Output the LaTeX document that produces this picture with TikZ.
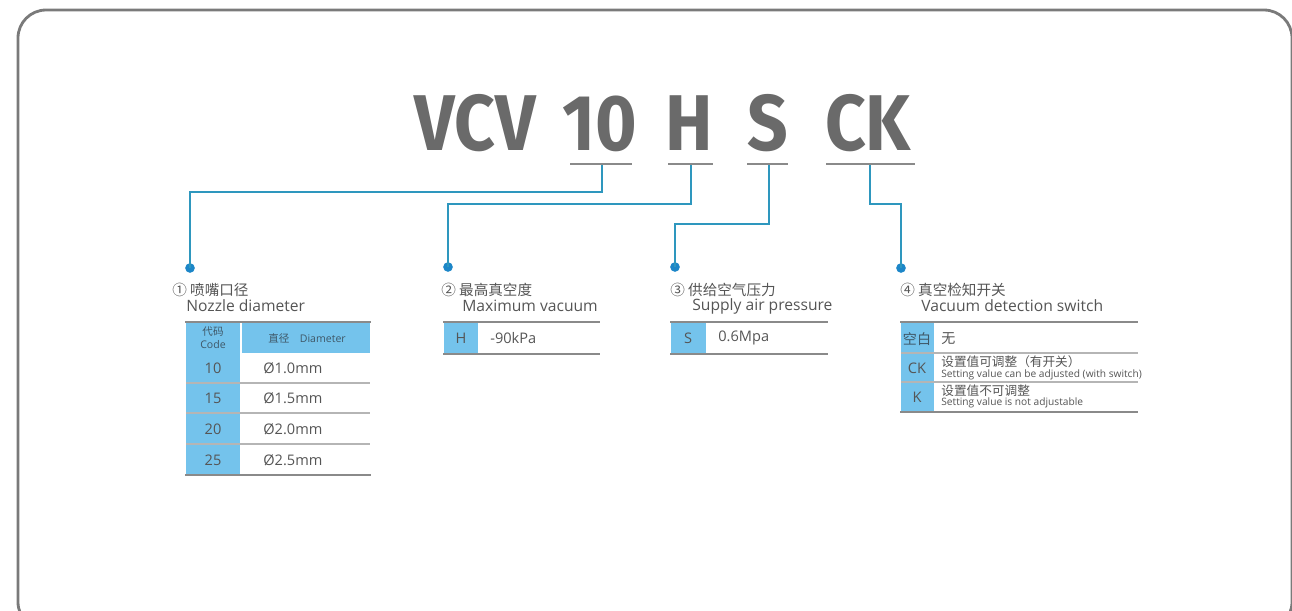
\documentclass[tikz,border=0pt]{standalone}
\usepackage{fontspec}
\setmainfont{Open Sans}
\newfontfamily\cjk{Noto Sans CJK SC}
\newfontfamily\titlefont[FakeStretch=0.9]{Fira Sans}
\definecolor{frameg}{HTML}{7A7A7A}
\definecolor{titleg}{HTML}{6A6A6A}
\definecolor{linec}{HTML}{2E97BE}
\definecolor{dotc}{HTML}{1C86C8}
\definecolor{cellb}{HTML}{74C3EC}
\definecolor{ruleg}{HTML}{8A8A8A}
\definecolor{sepg}{HTML}{B5B5B5}
\definecolor{txt}{HTML}{555555}
\definecolor{htxt}{HTML}{3F5868}
\tikzset{
  framebox/.style={draw=frameg, line width=1.6pt, rounded corners=0.56cm},
  titletxt/.style={anchor=base, inner sep=0pt, text=titleg, font=\titlefont\bfseries\fontsize{45}{45}\selectfont},
  uline/.style={draw=ruleg, line width=1.3pt},
  conn/.style={draw=linec, line width=1.1pt},
  dotn/.style={circle, fill=dotc, inner sep=0pt, minimum size=5.5pt},
  headcn/.style={anchor=west, inner sep=0pt, text=txt, font=\cjk\fontsize{8.3}{9}\selectfont},
  headen/.style={anchor=west, inner sep=0pt, text=txt, font=\fontsize{8.9}{10}\selectfont},
  toprule/.style={draw=ruleg, line width=1.3pt},
  seprule/.style={draw=sepg, line width=0.8pt},
  botrule/.style={draw=ruleg, line width=1pt},
  cell/.style={fill=cellb, draw=none},
  codetxt/.style={inner sep=0pt, text=txt, font=\fontsize{8.3}{9}\selectfont},
  valtxt/.style={anchor=west, inner sep=0pt, text=txt, font=\fontsize{8.3}{9}\selectfont},
  smalltxt/.style={inner sep=0pt, text=htxt, font=\fontsize{6}{7}\selectfont},
  cntxt/.style={anchor=west, inner sep=0pt, text=txt, font=\cjk\fontsize{7.2}{8}\selectfont},
  tinytxt/.style={anchor=west, inner sep=0pt, text=txt, font=\fontsize{5.8}{6}\selectfont},
}
\begin{document}
\begin{tikzpicture}[x=0.02cm,y=-0.02cm]
\useasboundingbox (0,0) rectangle (1292,610);
\begin{scope}
\clip (0,0) rectangle (1292,610);
\draw[framebox] (18,10) rectangle (1292,630);
\end{scope}

% title
\node[titletxt] (tVCV) at (475,150) {VCV};
\node[titletxt] (t10) at (600,150) {10};
\node[titletxt] (tH) at (689,150) {H};
\node[titletxt] (tS) at (768,150) {S};
\node[titletxt] (tCK) at (868,150) {CK};

% underlines
\coordinate (u10a) at (570,164); \coordinate (u10b) at (632,164);
\coordinate (uHa) at (668,164); \coordinate (uHb) at (713,164);
\coordinate (uSa) at (747,164); \coordinate (uSb) at (788,164);
\coordinate (uCKa) at (826,164); \coordinate (uCKb) at (915,164);
\coordinate (c10) at (602,164);
\coordinate (cH) at (691,164);
\coordinate (cS) at (769,164);
\coordinate (cCK) at (870,164);

% dots
\node[dotn] (d1) at (190,268) {};
\node[dotn] (d2) at (448,267) {};
\node[dotn] (d3) at (675,267) {};
\node[dotn] (d4) at (901,268) {};

% connectors
\draw[conn] (c10) -- (602,192) -| (d1.center);
\draw[conn] (cH) -- (691,204) -| (d2.center);
\draw[conn] (cS) -- (769,224) -| (d3.center);
\draw[conn] (cCK) -- (870,204) -| (d4.center);

\draw[uline] (u10a) -- (u10b);
\draw[uline] (uHa) -- (uHb);
\draw[uline] (uSa) -- (uSb);
\draw[uline] (uCKa) -- (uCKb);

% ---------- section 1
\node[headcn] (h1c) at (172,290) {① 喷嘴口径};
\node[headen] (h1e) at (186,306) {Nozzle diameter};
\fill[cell] (186,323) rectangle (240,475);
\fill[cell] (242,323) rectangle (370,353);
\draw[seprule] (186,383) -- (370,383);
\draw[seprule] (186,413) -- (370,413);
\draw[seprule] (186,444) -- (370,444);
\draw[toprule] (185,322) -- (371,322);
\draw[botrule] (185,475) -- (371,475);
\node[smalltxt, font=\cjk\fontsize{6}{7}\selectfont] (k1a) at (213,332) {代码};
\node[smalltxt] (k1b) at (213,345) {Code};
\node[smalltxt] (k1c) at (307,338) {{\cjk 直径}\hspace{6pt}Diameter};
\node[codetxt] (r10) at (213,368) {10};
\node[codetxt] (r15) at (213,398) {15};
\node[codetxt] (r20) at (213,429) {20};
\node[codetxt] (r25) at (213,460) {25};
\node[valtxt] (v10) at (263,368) {Ø1.0mm};
\node[valtxt] (v15) at (263,398) {Ø1.5mm};
\node[valtxt] (v20) at (263,429) {Ø2.0mm};
\node[valtxt] (v25) at (263,460) {Ø2.5mm};

% ---------- section 2
\node[headcn] (h2c) at (441,290) {② 最高真空度};
\node[headen] (h2e) at (462,306) {Maximum vacuum};
\fill[cell] (444,323) rectangle (478,353);
\draw[toprule] (443,322) -- (600,322);
\draw[botrule] (443,354) -- (600,354);
\node[codetxt] (rH) at (461,338) {H};
\node[valtxt] (vH) at (490,338) {-90kPa};

% ---------- section 3
\node[headcn] (h3c) at (670,290) {③ 供给空气压力};
\node[headen] (h3e) at (692,306) {Supply air pressure};
\fill[cell] (671,323) rectangle (706,353);
\draw[toprule] (670,322) -- (828,322);
\draw[botrule] (670,354) -- (828,354);
\node[codetxt] (rS) at (688,338) {S};
\node[valtxt] (vS) at (718,338) {0.6Mpa};

% ---------- section 4
\node[headcn] (h4c) at (900,290) {④ 真空检知开关};
\node[headen] (h4e) at (921,306) {Vacuum detection switch};
\fill[cell] (901,323) rectangle (934,412);
\draw[seprule] (901,353) -- (1138,353);
\draw[seprule] (901,382) -- (1138,382);
\draw[toprule] (900,322) -- (1138,322);
\draw[botrule] (900,412) -- (1138,412);
\node[codetxt, font=\cjk\fontsize{8}{9}\selectfont, text=htxt] (rB) at (917,339) {空白};
\node[cntxt, font=\cjk\fontsize{8}{9}\selectfont] (vB) at (941,339) {无};
\node[codetxt] (rCK) at (917,368) {CK};
\node[cntxt] (vCK1) at (941,362) {设置值可调整（有开关）};
\node[tinytxt] (vCK2) at (941,375) {Setting value can be adjusted (with switch)};
\node[codetxt] (rK) at (917,397) {K};
\node[cntxt] (vK1) at (941,391) {设置值不可调整};
\node[tinytxt] (vK2) at (941,403) {Setting value is not adjustable};
\end{tikzpicture}
\end{document}
